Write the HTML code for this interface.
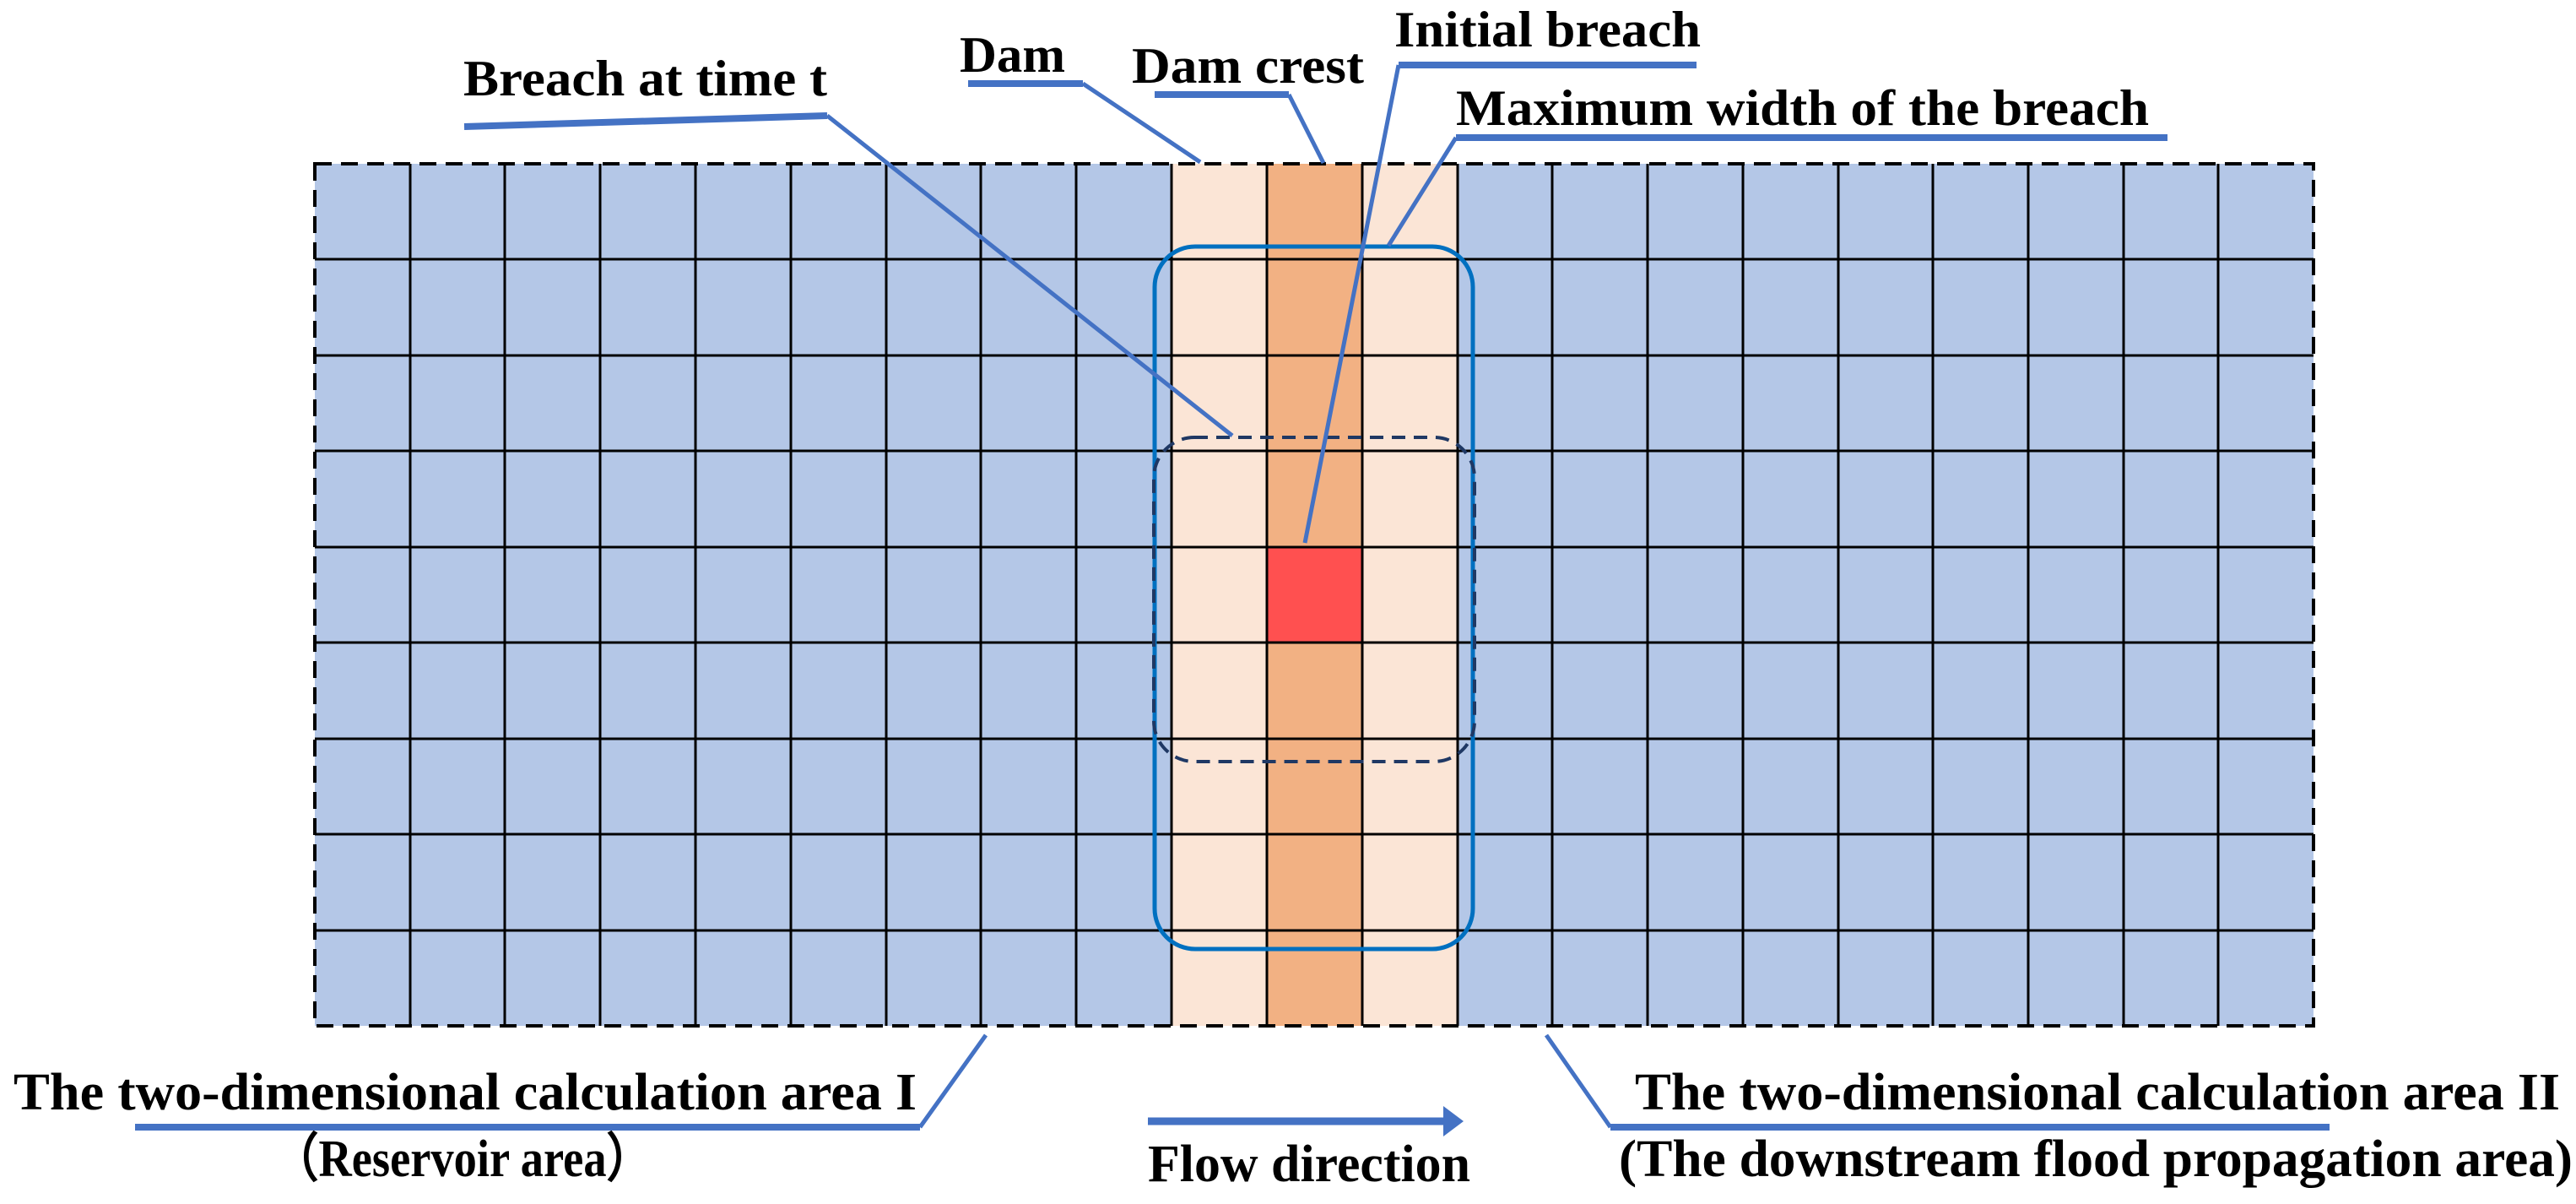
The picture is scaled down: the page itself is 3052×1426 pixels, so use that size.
<!DOCTYPE html>
<html><head><meta charset="utf-8"><style>
html,body{margin:0;padding:0;background:#fff}
svg{display:block}
text{font-family:"Liberation Serif",serif;font-weight:bold;fill:#000}
</style></head><body>
<svg width="3052" height="1426" viewBox="0 0 3052 1426" xmlns="http://www.w3.org/2000/svg">
<rect x="373" y="194" width="2368" height="1021" fill="#b4c7e7"/>
<rect x="1389" y="194" width="338" height="1021" fill="#fbe5d6"/>
<rect x="1502" y="194" width="112" height="1021" fill="#f2b183"/>
<rect x="1502" y="649" width="112" height="112" fill="#ff5050"/>
<g stroke="#000" stroke-width="3">
<line x1="486" y1="194" x2="486" y2="1215"/><line x1="598" y1="194" x2="598" y2="1215"/>
<line x1="711" y1="194" x2="711" y2="1215"/><line x1="824" y1="194" x2="824" y2="1215"/>
<line x1="937" y1="194" x2="937" y2="1215"/><line x1="1050" y1="194" x2="1050" y2="1215"/>
<line x1="1162" y1="194" x2="1162" y2="1215"/><line x1="1275" y1="194" x2="1275" y2="1215"/>
<line x1="1388" y1="194" x2="1388" y2="1215"/><line x1="1501" y1="194" x2="1501" y2="1215"/>
<line x1="1614" y1="194" x2="1614" y2="1215"/><line x1="1727" y1="194" x2="1727" y2="1215"/>
<line x1="1839" y1="194" x2="1839" y2="1215"/><line x1="1952" y1="194" x2="1952" y2="1215"/>
<line x1="2065" y1="194" x2="2065" y2="1215"/><line x1="2178" y1="194" x2="2178" y2="1215"/>
<line x1="2290" y1="194" x2="2290" y2="1215"/><line x1="2403" y1="194" x2="2403" y2="1215"/>
<line x1="2516" y1="194" x2="2516" y2="1215"/><line x1="2628" y1="194" x2="2628" y2="1215"/>
<line x1="373" y1="307" x2="2741" y2="307"/><line x1="373" y1="421" x2="2741" y2="421"/>
<line x1="373" y1="534" x2="2741" y2="534"/><line x1="373" y1="648" x2="2741" y2="648"/>
<line x1="373" y1="761" x2="2741" y2="761"/><line x1="373" y1="875" x2="2741" y2="875"/>
<line x1="373" y1="988" x2="2741" y2="988"/><line x1="373" y1="1102" x2="2741" y2="1102"/>
</g>
<rect x="373" y="194" width="2368" height="1021" fill="none" stroke="#000" stroke-width="4" stroke-dasharray="20 11"/>
<rect x="1368" y="292" width="377" height="832" rx="48" fill="none" stroke="#0070c0" stroke-width="5"/>
<rect x="1367" y="518" width="380" height="384" rx="48" fill="none" stroke="#1f3864" stroke-width="4" stroke-dasharray="16 10"/>
<g stroke="#4472c4" fill="none" stroke-linejoin="round">
<polyline points="550,150 980,137" stroke-width="8"/>
<line x1="980" y1="137" x2="1460" y2="516" stroke-width="5"/>
<polyline points="1147,99 1283,99" stroke-width="8"/>
<line x1="1283" y1="99" x2="1422" y2="192" stroke-width="5"/>
<polyline points="1368,112 1527,112" stroke-width="8"/>
<line x1="1527" y1="112" x2="1568" y2="193" stroke-width="5"/>
<polyline points="1657,77 2010,77" stroke-width="8"/>
<line x1="1657" y1="77" x2="1546" y2="643" stroke-width="5"/>
<polyline points="1725,163 2568,163" stroke-width="8"/>
<line x1="1725" y1="163" x2="1645" y2="291" stroke-width="5"/>
<polyline points="160,1335 1090,1335" stroke-width="8"/>
<line x1="1090" y1="1335" x2="1168" y2="1226" stroke-width="5"/>
<polyline points="1908,1335 2760,1335" stroke-width="8"/>
<line x1="1908" y1="1335" x2="1832" y2="1226" stroke-width="5"/>
<line x1="1360" y1="1328" x2="1712" y2="1328" stroke-width="9"/>
</g>
<polygon points="1710,1310 1734,1328 1710,1346" fill="#4472c4"/>
<text x="549" y="113" font-size="60" textLength="431" lengthAdjust="spacingAndGlyphs">Breach at time t</text>
<text x="1137" y="85" font-size="60" textLength="125" lengthAdjust="spacingAndGlyphs">Dam</text>
<text x="1341" y="98" font-size="60" textLength="275" lengthAdjust="spacingAndGlyphs">Dam crest</text>
<text x="1652" y="55" font-size="60" textLength="363" lengthAdjust="spacingAndGlyphs">Initial breach</text>
<text x="1725" y="148" font-size="60" textLength="821" lengthAdjust="spacingAndGlyphs">Maximum width of the breach</text>
<text x="16" y="1314" font-size="62" textLength="1070" lengthAdjust="spacingAndGlyphs">The two-dimensional  calculation area I</text>
<text x="323" y="1393" font-size="62" textLength="450" lengthAdjust="spacingAndGlyphs">（Reservoir area）</text>
<text x="1360" y="1399" font-size="62" textLength="382" lengthAdjust="spacingAndGlyphs">Flow direction</text>
<text x="1937" y="1314" font-size="62" textLength="1096" lengthAdjust="spacingAndGlyphs">The two-dimensional  calculation area II</text>
<text x="1918" y="1393" font-size="62" textLength="1130" lengthAdjust="spacingAndGlyphs">(The downstream  flood propagation area)</text>
</svg>
</body></html>
